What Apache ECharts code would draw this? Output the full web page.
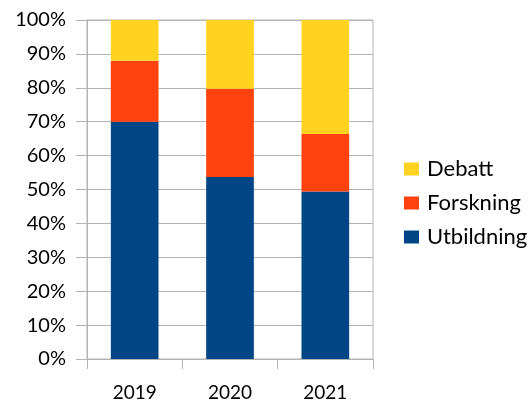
<!DOCTYPE html>
<html>
<head>
<meta charset="utf-8">
<script src="https://cdn.jsdelivr.net/npm/echarts@6/dist/echarts.min.js"></script>
<style>
  html, body { margin: 0; padding: 0; background: #fff; }
  #chart { width: 530px; height: 403px; }
</style>
</head>
<body>
<div id="chart"></div>
<script>
var years = ['2019', '2020', '2021'];
var utbildning = [70, 53.7, 49.4];
var forskning = [18, 26, 17];
var debatt = [12, 20.3, 33.6];

var chart = echarts.init(document.getElementById('chart'));
var fontName = 'Lato';
var gridColor = '#b3b3b3';

function barSeries(name, values, color) {
    return {
        name: name,
        type: 'bar',
        stack: 'total',
        barWidth: '50%',
        data: values,
        itemStyle: { color: color },
        emphasis: { disabled: true }
    };
}

var option = {
    animation: false,
    grid: {
        left: 87, right: 157, top: 20, bottom: 44,
        show: true, borderColor: gridColor, borderWidth: 1
    },
    legend: {
        orient: 'vertical',
        left: 399,
        top: 153,
        itemWidth: 15,
        itemHeight: 13,
        itemGap: 12,
        icon: 'rect',
        data: ['Debatt', 'Forskning', 'Utbildning'],
        textStyle: { fontFamily: fontName, fontSize: 22, color: '#000', padding: [0, 0, 0, 3] }
    },
    xAxis: {
        type: 'category',
        data: years,
        axisLine: { lineStyle: { color: gridColor } },
        axisTick: { show: true, length: 10, lineStyle: { color: gridColor } },
        axisLabel: { fontFamily: fontName, fontSize: 19, color: '#000', margin: 24 }
    },
    yAxis: {
        type: 'value',
        min: 0, max: 100, interval: 10,
        axisLine: { show: true, lineStyle: { color: gridColor } },
        axisTick: { show: true, length: 11, lineStyle: { color: gridColor } },
        splitLine: { lineStyle: { color: gridColor } },
        axisLabel: {
            fontFamily: fontName, fontSize: 20, color: '#000', margin: 21,
            formatter: '{value}%'
        }
    },
    series: [
        barSeries('Utbildning', utbildning, '#004586'),
        barSeries('Forskning', forskning, '#ff420e'),
        barSeries('Debatt', debatt, '#ffd320')
    ]
};

chart.setOption(option);
</script>
</body>
</html>
